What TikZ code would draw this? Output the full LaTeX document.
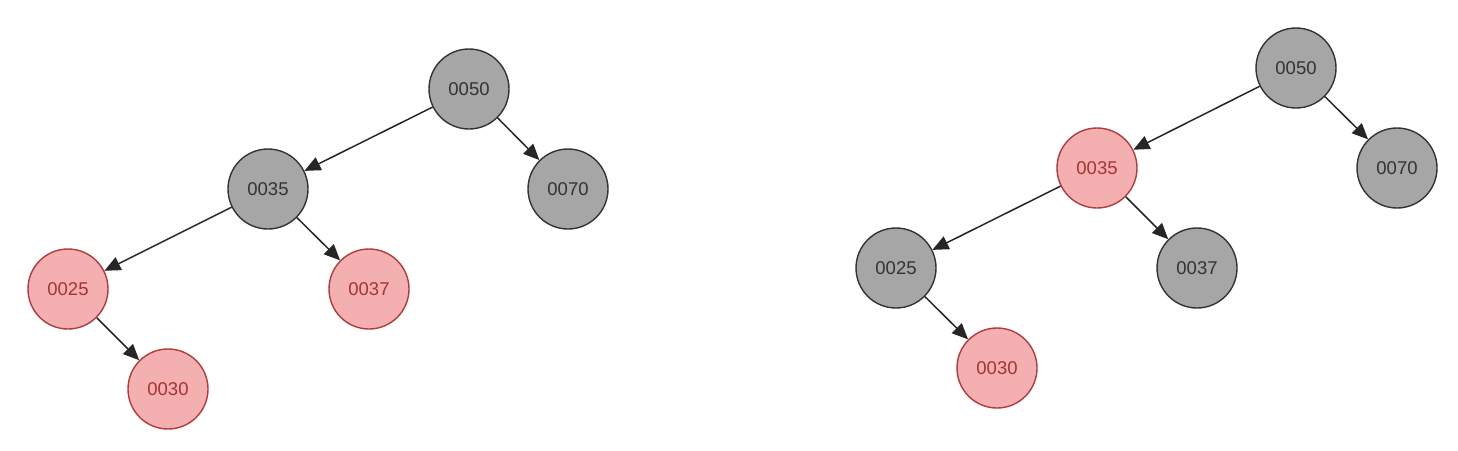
\documentclass[tikz,border=0pt]{standalone}
\usepackage{fontspec}
\setmainfont{Liberation Sans}
\usetikzlibrary{arrows.meta}
\definecolor{gfill}{HTML}{A6A6A6}
\definecolor{gline}{HTML}{333333}
\definecolor{rfill}{HTML}{F4B0B0}
\definecolor{rline}{HTML}{B33A3A}
\definecolor{rtext}{HTML}{A83232}
\begin{document}
\begin{tikzpicture}[x=1pt,y=-1pt,
  blk/.style={circle,draw=gline,fill=gfill,line width=1.4pt,minimum size=80pt,inner sep=0pt,text=black!80,font=\fontsize{18.5}{18.5}\selectfont},
  rd/.style={circle,draw=rline,fill=rfill,line width=1.4pt,minimum size=80pt,inner sep=0pt,text=rtext,font=\fontsize{18.5}{18.5}\selectfont},
  edge/.style={draw=black!85,line width=1.5pt,-{Triangle[length=16pt,width=14pt]}}]
\useasboundingbox (0,0) rectangle (1458,450);
% left tree
\node[blk] (a50) at (469,89) {0050};
\node[blk] (a35) at (268,189) {0035};
\node[blk] (a70) at (568,189) {0070};
\node[rd] (a25) at (68,289) {0025};
\node[rd] (a37) at (369,289) {0037};
\node[rd] (a30) at (168,389) {0030};
\draw[edge] (a50) -- (a35);
\draw[edge] (a50) -- (a70);
\draw[edge] (a35) -- (a25);
\draw[edge] (a35) -- (a37);
\draw[edge] (a25) -- (a30);
% right tree
\node[blk] (b50) at (1296,68) {0050};
\node[rd] (b35) at (1097,168) {0035};
\node[blk] (b70) at (1397,168) {0070};
\node[blk] (b25) at (896,268) {0025};
\node[blk] (b37) at (1197,268) {0037};
\node[rd] (b30) at (997,368) {0030};
\draw[edge] (b50) -- (b35);
\draw[edge] (b50) -- (b70);
\draw[edge] (b35) -- (b25);
\draw[edge] (b35) -- (b37);
\draw[edge] (b25) -- (b30);
\end{tikzpicture}
\end{document}
